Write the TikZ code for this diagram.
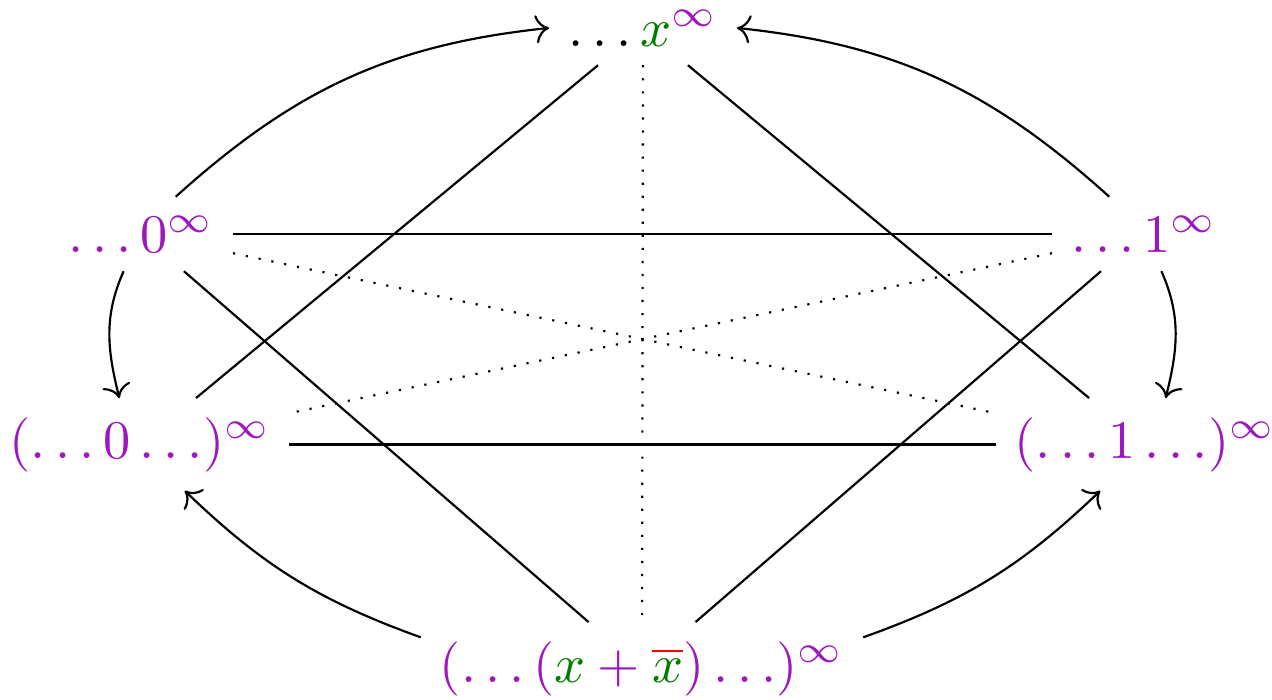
\documentclass[tikz,border=0pt]{standalone}
\usepackage{amsmath}
\usetikzlibrary{arrows.meta}
\definecolor{lilac}{RGB}{158,22,190}
\definecolor{leaf}{RGB}{0,125,0}

\begin{document}
\begin{tikzpicture}[x=0.184pt, y=-0.184pt, word/.style={anchor=base, text=lilac}, arrow/.style={-{To}}]
\useasboundingbox (0,0) rectangle (1272,699);

\node[word] (top) at (643,46) {$\color{black}\ldots{\color{leaf}x}^{\color{lilac}\infty}$};
\node[word] (zeroup) at (141,252) {$\ldots 0^\infty$};
\node[word] (oneup) at (1144,252) {$\ldots 1^\infty$};
\node[word] (zerolow) at (140,458) {$(\ldots 0\ldots)^\infty$};
\node[word] (onelow) at (1145,458) {$(\ldots 1\ldots)^\infty$};
\node[word] (mix) at (642,682) {$(\ldots({\color{leaf}x}+{\color{red}\overline{{\color{leaf}x}}})\ldots)^\infty$};

\draw (top) -- (zerolow);
\draw (top) -- (onelow);
\draw (zeroup) -- (oneup);
\draw (zerolow) -- (onelow);
\draw (zeroup) -- (mix);
\draw (oneup) -- (mix);
\draw[dotted] (top) -- (mix);
\draw[dotted] (zeroup) -- (onelow);
\draw[dotted] (oneup) -- (zerolow);

\draw[arrow] (zeroup.47) to[out=42, in=186] (top.west);
\draw[arrow] (oneup.133) to[out=138, in=-6] (top.east);
\draw[arrow] (zeroup.245) to[out=246, in=104] (zerolow.114);
\draw[arrow] (oneup.-65) to[out=-66, in=76] (onelow.66);
\draw[arrow] (mix.172) to[bend left=12] (zerolow.-46);
\draw[arrow] (mix.8) to[bend right=12] (onelow.-134);

\end{tikzpicture}
\end{document}
